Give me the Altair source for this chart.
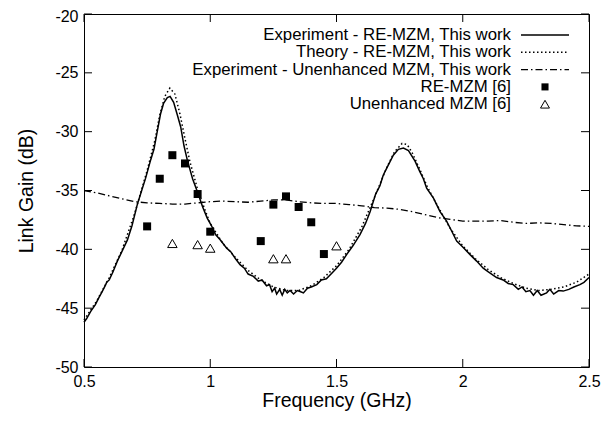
import altair as alt
import pandas as pd

FONT = "Liberation Sans"

# Experiment - RE-MZM (solid)
exp_x = [0.500, 0.510, 0.526, 0.545, 0.559, 0.572, 0.586, 0.590, 0.600, 0.615, 0.632, 0.650, 0.672, 0.690,
         0.711, 0.730, 0.744, 0.764, 0.777, 0.790, 0.803, 0.815, 0.830, 0.841, 0.855, 0.870, 0.883, 0.896,
         0.909, 0.930, 0.949, 0.970, 0.988, 1.005, 1.021, 1.040, 1.065, 1.081, 1.100, 1.118, 1.135, 1.150,
         1.171, 1.190, 1.205, 1.223, 1.235, 1.245, 1.255, 1.263, 1.275, 1.285, 1.295, 1.305, 1.316, 1.330,
         1.345, 1.358, 1.369, 1.385, 1.400, 1.422, 1.440, 1.460, 1.487, 1.500, 1.520, 1.540, 1.565, 1.593,
         1.615, 1.633, 1.655, 1.672, 1.685, 1.699, 1.725, 1.745, 1.765, 1.785, 1.811, 1.830, 1.844, 1.857,
         1.884, 1.910, 1.936, 1.955, 1.976, 2.000, 2.029, 2.055, 2.081, 2.100, 2.134, 2.160, 2.180, 2.200,
         2.220, 2.235, 2.250, 2.266, 2.280, 2.295, 2.310, 2.332, 2.345, 2.360, 2.380, 2.398, 2.420, 2.440,
         2.464, 2.480, 2.500]
exp_y = [-46.2, -45.9, -45.3, -44.7, -44.1, -43.6, -43.0, -42.8, -42.6, -41.9, -41.0, -40.2, -39.2, -38.0,
         -36.2, -34.9, -33.95, -32.4, -31.5, -30.0, -28.5, -27.6, -27.1, -27.0, -27.5, -28.6, -29.6, -31.2,
         -32.4, -34.0, -35.1, -36.4, -37.35, -38.0, -38.75, -39.2, -39.9, -40.2, -40.8, -41.3, -41.6, -42.1,
         -42.3, -42.7, -42.6, -43.1, -43.0, -43.6, -43.3, -43.8, -43.4, -43.9, -43.4, -43.7, -43.5, -43.8,
         -43.5, -43.6, -43.7, -43.3, -43.2, -43.0, -42.6, -42.5, -41.9, -41.6, -41.1, -40.45, -39.7, -38.75,
         -37.8, -36.8, -35.3, -34.6, -33.7, -33.1, -32.0, -31.5, -31.4, -31.6, -32.5, -33.4, -34.0, -34.8,
         -35.65, -36.8, -37.6, -38.4, -39.3, -39.8, -40.45, -41.0, -41.6, -41.9, -42.4, -42.6, -42.9, -43.0,
         -43.4, -43.2, -43.6, -43.5, -43.9, -43.5, -43.9, -43.7, -43.4, -43.8, -43.5, -43.55, -43.4, -43.2,
         -43.0, -42.8, -42.4]

# Theory - RE-MZM (dotted)
th_x = [0.50, 0.55, 0.60, 0.65, 0.70, 0.75, 0.78, 0.80, 0.82, 0.84, 0.86, 0.88, 0.90, 0.92, 0.95, 0.98,
        1.00, 1.05, 1.10, 1.15, 1.20, 1.25, 1.30, 1.35, 1.40, 1.45, 1.50, 1.55, 1.60, 1.65, 1.70, 1.73,
        1.76, 1.78, 1.80, 1.83, 1.86, 1.90, 1.95, 2.00, 2.05, 2.10, 2.15, 2.20, 2.25, 2.30, 2.35, 2.40,
        2.45, 2.50]
th_y = [-46.0, -44.4, -42.4, -40.1, -37.0, -33.3, -30.8, -28.6, -27.0, -26.3, -26.8, -28.5, -30.6, -32.6,
        -34.9, -36.7, -37.8, -39.5, -40.7, -41.8, -42.6, -43.2, -43.5, -43.5, -43.1, -42.4, -41.4, -40.0,
        -38.1, -35.6, -33.0, -31.7, -31.0, -31.1, -31.8, -33.2, -34.7, -36.3, -38.2, -39.7, -40.8, -41.7,
        -42.4, -42.9, -43.3, -43.5, -43.4, -43.2, -42.8, -42.1]

# Experiment - Unenhanced MZM (dash-dot)
un_x = [0.50, 0.55, 0.60, 0.65, 0.70, 0.75, 0.80, 0.85, 0.90, 0.95, 1.00, 1.05, 1.10, 1.15, 1.20, 1.25,
        1.30, 1.35, 1.40, 1.45, 1.50, 1.55, 1.60, 1.65, 1.70, 1.75, 1.80, 1.85, 1.90, 1.95, 2.00, 2.05,
        2.10, 2.15, 2.20, 2.25, 2.30, 2.35, 2.40, 2.45, 2.50]
un_y = [-35.0, -35.2, -35.45, -35.7, -35.95, -36.05, -36.1, -36.15, -36.15, -36.05, -35.95, -35.9, -35.95,
        -36.0, -35.9, -35.8, -35.8, -35.95, -36.05, -36.1, -36.1, -36.2, -36.3, -36.45, -36.5, -36.6, -36.8,
        -37.05, -37.3, -37.45, -37.6, -37.6, -37.6, -37.55, -37.7, -37.8, -37.75, -37.8, -37.9, -38.0, -38.05]

# RE-MZM [6] (filled squares)
sq_x = [0.75, 0.80, 0.85, 0.90, 0.95, 1.00, 1.20, 1.25, 1.30, 1.35, 1.40, 1.45]
sq_y = [-38.05, -34.0, -32.0, -32.7, -35.3, -38.5, -39.3, -36.2, -35.5, -36.4, -37.7, -40.4]

# Unenhanced MZM [6] (open triangles)
tr_x = [0.85, 0.95, 1.00, 1.25, 1.30, 1.50]
tr_y = [-39.5, -39.6, -39.9, -40.8, -40.8, -39.7]

x_ticks = [0.5, 1.0, 1.5, 2.0, 2.5]
y_ticks = [-50, -45, -40, -35, -30, -25, -20]

legend_labels = ["Experiment - RE-MZM, This work",
                 "Theory - RE-MZM, This work",
                 "Experiment - Unenhanced MZM, This work",
                 "RE-MZM [6]",
                 "Unenhanced MZM [6]"]

W, H = 505, 353
xs = alt.Scale(domain=[0.5, 2.5], nice=False, zero=False)
ys = alt.Scale(domain=[-50, -20], nice=False, zero=False)

xaxis = alt.Axis(values=x_ticks, ticks=False, domain=False, grid=False,
                 labelExpr="datum.value + ''", labelFont=FONT, labelFontSize=16,
                 labelColor="black", labelPadding=6, labelFlush=False,
                 title="Frequency (GHz)", titleFont=FONT, titleFontSize=19.5,
                 titleFontWeight="normal", titleColor="black", titlePadding=2)
yaxis = alt.Axis(values=y_ticks, ticks=False, domain=False, grid=False,
                 labelExpr="datum.value + ''", labelFont=FONT, labelFontSize=16,
                 labelColor="black", labelPadding=6, labelFlush=False,
                 labelOffset={"condition": {"test": "datum.value == -20", "value": 2}, "value": 0},
                 title="Link Gain (dB)", titleFont=FONT, titleFontSize=19.5,
                 titleFontWeight="normal", titleColor="black", titlePadding=18)

df_exp = pd.DataFrame({"x": exp_x, "y": exp_y})
df_th = pd.DataFrame({"x": th_x, "y": th_y})
df_un = pd.DataFrame({"x": un_x, "y": un_y})
df_sq = pd.DataFrame({"x": sq_x, "y": sq_y})
df_tr = pd.DataFrame({"x": tr_x, "y": tr_y})
df_xt = pd.DataFrame({"x": x_ticks})
df_yt = pd.DataFrame({"y": y_ticks})

exp_line = alt.Chart(df_exp).mark_line(color="black", strokeWidth=1.5).encode(
    x=alt.X("x:Q", scale=xs, axis=xaxis), y=alt.Y("y:Q", scale=ys, axis=yaxis))
th_line = alt.Chart(df_th).mark_line(color="black", strokeWidth=1.5, strokeDash=[1.5, 2.5]).encode(
    x=alt.X("x:Q", scale=xs), y=alt.Y("y:Q", scale=ys))
un_line = alt.Chart(df_un).mark_line(color="black", strokeWidth=1.3, strokeDash=[7, 3, 1.5, 3]).encode(
    x=alt.X("x:Q", scale=xs), y=alt.Y("y:Q", scale=ys))
squares = alt.Chart(df_sq).mark_point(shape="square", filled=True, color="black", size=64, opacity=1).encode(
    x=alt.X("x:Q", scale=xs), y=alt.Y("y:Q", scale=ys))
triangles = alt.Chart(df_tr).mark_point(shape="triangle-up", filled=False, color="black", size=90,
                                        strokeWidth=1, opacity=1).encode(
    x=alt.X("x:Q", scale=xs), y=alt.Y("y:Q", scale=ys))

TL = 8
bt = alt.Chart(df_xt).mark_rule(color="black", strokeWidth=1).encode(
    x=alt.X("x:Q", scale=xs), y=alt.value(H), y2=alt.value(H - TL))
tt = alt.Chart(df_xt).mark_rule(color="black", strokeWidth=1).encode(
    x=alt.X("x:Q", scale=xs), y=alt.value(0), y2=alt.value(TL))
lt = alt.Chart(df_yt).mark_rule(color="black", strokeWidth=1).encode(
    y=alt.Y("y:Q", scale=ys), x=alt.value(0), x2=alt.value(TL))
rt = alt.Chart(df_yt).mark_rule(color="black", strokeWidth=1).encode(
    y=alt.Y("y:Q", scale=ys), x=alt.value(W), x2=alt.value(W - TL))

# legend (gnuplot style, inside top right)
text_right = 427
row0 = 21
dy = 17.3
s0, s1 = 437, 485
sym_x = 461
legend_layers = []
for i, lab in enumerate(legend_labels):
    legend_layers.append(
        alt.Chart(pd.DataFrame({"t": [lab]})).mark_text(
            align="right", baseline="middle", font=FONT, fontSize=16.8, color="black").encode(
            text="t:N", x=alt.value(text_right), y=alt.value(row0 + i * dy)))
styles = [dict(strokeWidth=1.5), dict(strokeWidth=1.5, strokeDash=[1.5, 2.5]),
          dict(strokeWidth=1.3, strokeDash=[7, 3, 1.5, 3])]
for i, st in enumerate(styles):
    legend_layers.append(
        alt.Chart(pd.DataFrame({"t": [legend_labels[i]]})).mark_rule(color="black", **st).encode(
            x=alt.value(s0), x2=alt.value(s1), y=alt.value(row0 + i * dy)))
legend_layers.append(
    alt.Chart(pd.DataFrame({"t": [legend_labels[3]]})).mark_point(
        shape="square", filled=True, color="black", size=50, opacity=1).encode(
        x=alt.value(sym_x), y=alt.value(row0 + 3 * dy)))
legend_layers.append(
    alt.Chart(pd.DataFrame({"t": [legend_labels[4]]})).mark_point(
        shape="triangle-up", filled=False, color="black", size=80, strokeWidth=1, opacity=1).encode(
        x=alt.value(sym_x), y=alt.value(row0 + 4 * dy)))

chart = alt.layer(exp_line, th_line, un_line, squares, triangles, bt, tt, lt, rt, *legend_layers).properties(
    width=W, height=H,
    autosize=alt.AutoSizeParams(type="none"),
    padding={"left": 76, "top": 6, "right": 16, "bottom": 46},
    background="white",
).configure_view(stroke="black", strokeWidth=1)

chart.save("out.html", embed_options={"renderer": "svg", "actions": False})
